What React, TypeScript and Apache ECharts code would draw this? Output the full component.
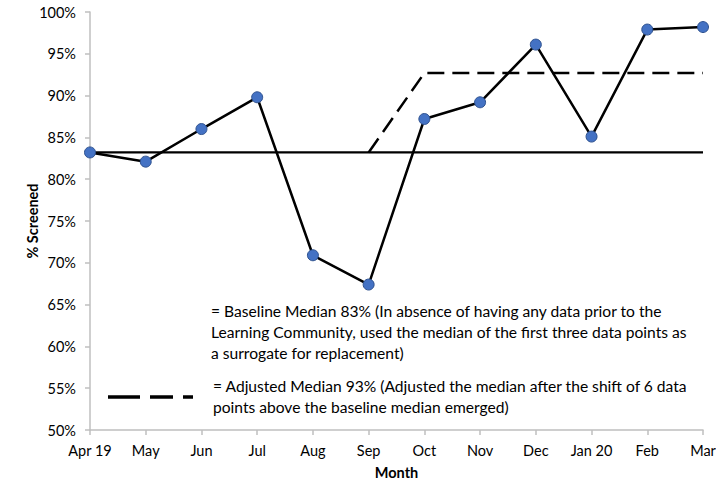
import React, { useEffect, useRef } from "react";
import * as echarts from "echarts";

const months = ["Apr 19", "May", "Jun", "Jul", "Aug", "Sep", "Oct", "Nov", "Dec", "Jan 20", "Feb", "Mar"];
const screened = [83.2, 82.1, 86.0, 89.8, 70.9, 67.4, 87.2, 89.2, 96.1, 85.1, 97.9, 98.2];
const baselineMedian = [83.2, 83.2, 83.2, 83.2, 83.2, 83.2, 83.2, 83.2, 83.2, 83.2, 83.2, 83.2];
const adjustedMedian = [null, null, null, null, null, 83.2, 92.7, 92.7, 92.7, 92.7, 92.7, 92.7];
const legendBaseline = [
  "= Baseline Median 83% (In absence of having any data prior to the",
  "Learning Community, used the median of the first three data points as",
  "a surrogate for replacement)",
];
const legendAdjusted = [
  "= Adjusted Median 93% (Adjusted the median after the shift of 6 data",
  "points above the baseline median emerged)",
];

const FONT = "Lato, 'Liberation Sans', sans-serif";

export default function App() {
  const ref = useRef<HTMLDivElement>(null);
  useEffect(() => {
    document.body.style.margin = "0";
    const chart = echarts.init(ref.current!, null, { renderer: "svg" });
    const axisColor = "#BFBFBF";
    chart.setOption({
      animation: false,
      backgroundColor: "#ffffff",
      textStyle: { fontFamily: FONT },
      grid: { left: 90, right: 13, top: 12, bottom: 51, containLabel: false, outerBoundsMode: "none" },
      xAxis: {
        type: "category",
        data: months,
        boundaryGap: false,
        name: "Month",
        nameLocation: "middle",
        nameGap: 35,
        nameMoveOverlap: false,
        nameTextStyle: { fontFamily: FONT, fontSize: 14.5, fontWeight: "bold", color: "#000" },
        axisLine: { lineStyle: { color: axisColor, width: 1.5 } },
        axisTick: { show: true, alignWithLabel: true, length: 5, lineStyle: { color: axisColor, width: 1.5 } },
        axisLabel: { fontFamily: FONT, fontSize: 14.5, color: "#000", margin: 13, interval: 0 },
        splitLine: { show: false },
      },
      yAxis: {
        type: "value",
        min: 50,
        max: 100,
        interval: 5,
        name: "% Screened",
        nameLocation: "middle",
        nameGap: 58,
        nameRotate: 90,
        nameMoveOverlap: false,
        nameTextStyle: { fontFamily: FONT, fontSize: 14.5, fontWeight: "bold", color: "#000", verticalAlign: "middle" },
        axisLine: { show: true, lineStyle: { color: axisColor, width: 1.5 } },
        axisTick: { show: true, length: 5, lineStyle: { color: axisColor, width: 1.5 } },
        axisLabel: { fontFamily: FONT, fontSize: 14.5, color: "#000", margin: 14, formatter: "{value}%" },
        splitLine: { show: false },
      },
      series: [
        {
          type: "line",
          data: baselineMedian,
          symbol: "none",
          lineStyle: { color: "#000", width: 2.2 },
          z: 1,
        },
        {
          type: "line",
          data: adjustedMedian,
          symbol: "none",
          connectNulls: false,
          lineStyle: { color: "#000", width: 2.5, type: [17, 8] },
          z: 1,
        },
        {
          type: "line",
          data: screened,
          symbol: "circle",
          symbolSize: 11,
          lineStyle: { color: "#000", width: 2.5 },
          itemStyle: { color: "#4472C4", borderColor: "#2F528F", borderWidth: 1 },
          z: 3,
        },
      ],
      graphic: [
        ...legendBaseline.map((t, i) => ({
          type: "text",
          left: 211,
          top: 303 + i * 21,
          style: { text: t, font: `15.6px ${FONT}`, fill: "#000" },
        })),
        ...legendAdjusted.map((t, i) => ({
          type: "text",
          left: 213,
          top: 378 + i * 21,
          style: { text: t, font: `15.6px ${FONT}`, fill: "#000" },
        })),
        {
          type: "line",
          shape: { x1: 108, y1: 397, x2: 193, y2: 397 },
          style: { stroke: "#000", lineWidth: 3.5, lineDash: [32, 10, 23, 10] },
        },
      ],
    });
    return () => chart.dispose();
  }, []);
  return <div ref={ref} style={{ width: 716, height: 481 }} />;
}
